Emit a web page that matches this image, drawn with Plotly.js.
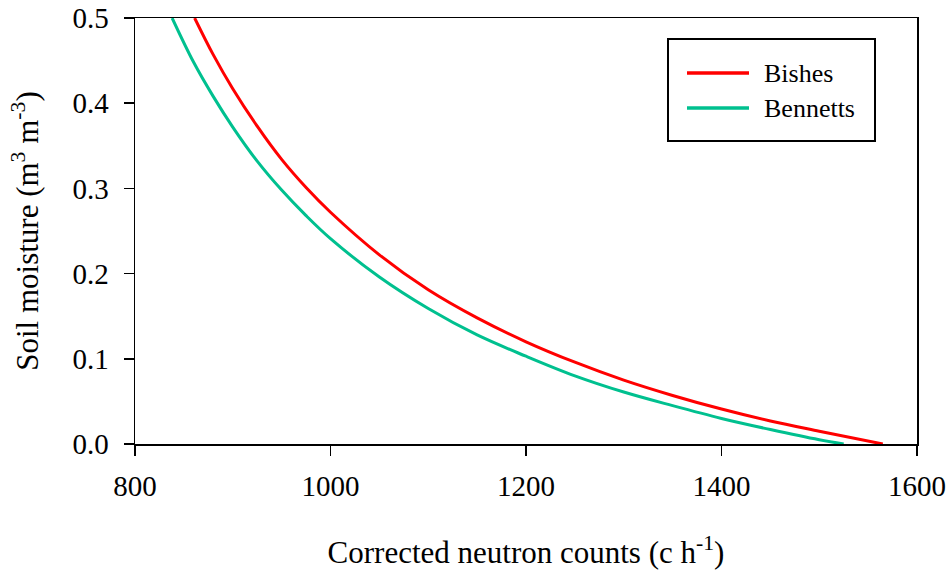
<!DOCTYPE html>
<html>
<head>
<meta charset="utf-8">
<script src="https://cdn.plot.ly/plotly-3.0.1.min.js"></script>
<style>html,body{margin:0;padding:0;background:#fff;}#chart{width:952px;height:574px;}</style>
</head>
<body>
<div id="chart"></div>
<script>
// Data
const seriesNames = ["Bishes", "Bennetts"];
const seriesColors = ["#FF0000", "#00C08F"];
const bishesCounts = [861, 880, 900, 925, 950, 975, 1000, 1050, 1100, 1150, 1200, 1250, 1300, 1350, 1400, 1450, 1500, 1565];
const bishesMoisture = [0.500, 0.457, 0.417, 0.373, 0.334, 0.301, 0.272, 0.222, 0.181, 0.148, 0.120, 0.096, 0.075, 0.057, 0.041, 0.027, 0.015, 0.000];
const bennettsCounts = [838, 860, 880, 900, 925, 950, 975, 1000, 1050, 1100, 1150, 1200, 1250, 1300, 1350, 1400, 1450, 1500, 1525];
const bennettsMoisture = [0.500, 0.448, 0.408, 0.372, 0.332, 0.298, 0.268, 0.241, 0.196, 0.159, 0.128, 0.103, 0.080, 0.061, 0.045, 0.030, 0.017, 0.005, 0.000];
const xTicks = [800, 1000, 1200, 1400, 1600];
const yTicks = [0.0, 0.1, 0.2, 0.3, 0.4, 0.5];

const font = "Liberation Serif, Times New Roman, serif";
const traces = [
  {x: bishesCounts, y: bishesMoisture, name: seriesNames[0], mode: "lines", showlegend: false,
   line: {color: seriesColors[0], width: 3, shape: "spline"}},
  {x: bennettsCounts, y: bennettsMoisture, name: seriesNames[1], mode: "lines", showlegend: false,
   line: {color: seriesColors[1], width: 3, shape: "spline"}}
];
const axisCommon = {
  showline: true, linecolor: "#000", linewidth: 1.5, mirror: true,
  ticks: "outside", ticklen: 10, tickwidth: 1.5, tickcolor: "#000",
  showgrid: false, zeroline: false,
  tickfont: {family: font, size: 29, color: "#000"}
};

// Legend box drawn in paper coordinates (plot area: x 135..917, y 18..444)
const PW = 782, PH = 426;
const px = v => (v - 135) / PW;
const py = v => (444 - v) / PH;
const shapes = [
  {type: "rect", xref: "paper", yref: "paper", x0: px(668), x1: px(875), y0: py(141), y1: py(39),
   line: {color: "#000", width: 2}, fillcolor: "#fff", layer: "above"}
];
const annotations = [];
const rowY = [73, 108];
seriesNames.forEach((n, i) => {
  shapes.push({type: "line", xref: "paper", yref: "paper", x0: px(687), x1: px(749), y0: py(rowY[i]), y1: py(rowY[i]),
    line: {color: seriesColors[i], width: 3.5}, layer: "above"});
  annotations.push({xref: "paper", yref: "paper", x: px(762), y: py(rowY[i]), xanchor: "left", yanchor: "middle",
    text: n, showarrow: false, font: {family: font, size: 26, color: "#000"}});
});

const layout = {
  width: 952, height: 574,
  margin: {l: 135, r: 35, t: 18, b: 130},
  paper_bgcolor: "#fff", plot_bgcolor: "#fff",
  font: {family: font, color: "#000"},
  showlegend: false,
  shapes: shapes, annotations: annotations,
  xaxis: Object.assign({}, axisCommon, {
    range: [800, 1600], tickvals: xTicks, ticktext: xTicks.map(String), ticklabelstandoff: 6,
    title: {text: "Corrected neutron counts (c h<sup>-1</sup>)", font: {family: font, size: 31, color: "#000"}, standoff: 40}
  }),
  yaxis: Object.assign({}, axisCommon, {
    range: [0, 0.5], tickvals: yTicks, ticktext: yTicks.map(v => v.toFixed(1)), ticklabelstandoff: 9,
    title: {text: "Soil moisture (m<sup>3</sup> m<sup>-3</sup>)", font: {family: font, size: 31, color: "#000"}, standoff: 24}
  })
};
Plotly.newPlot("chart", traces, layout, {displayModeBar: false, staticPlot: true});
</script>
</body>
</html>
